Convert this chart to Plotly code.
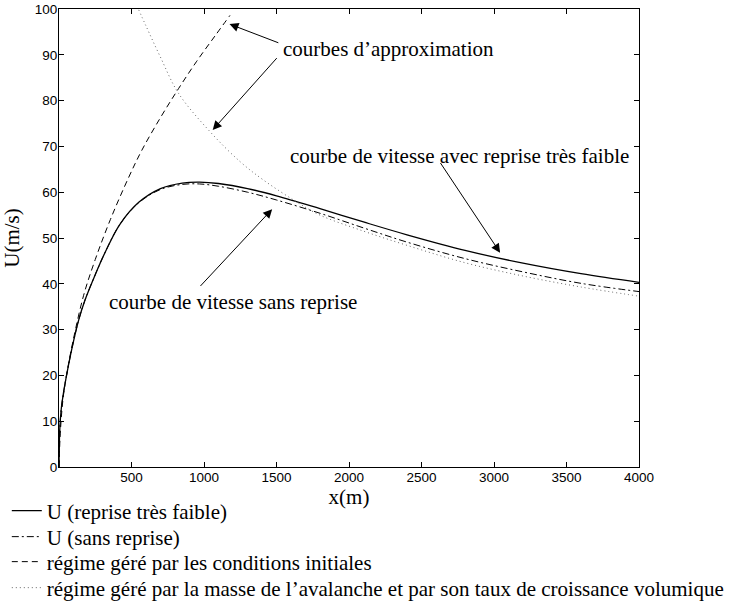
import plotly.graph_objects as go

# --- data ---
x_solid = [0, 5, 15, 30, 55, 90, 135, 180, 250, 320, 420, 550, 700, 850, 970, 1100, 1300, 1500, 1800, 2100, 2400, 2800, 3200, 3600, 4000]
u_solid = [0, 8, 12.5, 16, 20.5, 26, 32, 36.5, 42, 47, 53, 57.8, 60.8, 62, 62.2, 61.9, 60.8, 59.2, 56.4, 53.5, 50.7, 47.3, 44.5, 42.2, 40.3]

x_sans = [0, 5, 15, 30, 55, 90, 135, 180, 250, 320, 420, 550, 700, 850, 970, 1100, 1300, 1500, 1800, 2100, 2400, 2800, 3200, 3600, 4000]
u_sans = [0, 8, 12.5, 16, 20.5, 26, 32, 36.5, 42, 47, 53, 57.7, 60.6, 61.7, 61.8, 61.3, 60.0, 58.3, 55.4, 52.2, 49.1, 45.5, 42.6, 40.1, 38.3]

x_init = [0, 10, 30, 60, 100, 170, 250, 354, 480, 572, 700, 824, 950, 1080, 1179]
u_init = [0, 8, 15.5, 21.5, 28, 37.5, 45.3, 54.0, 63.2, 69.2, 76.3, 82.6, 88.6, 94.3, 98.6]

x_masse = [550, 600, 698, 824, 1042, 1248, 1408, 1638, 1800, 2100, 2400, 2800, 3200, 3600, 4000]
u_masse = [99.8, 96.3, 89.6, 81.6, 73.2, 66.7, 62.7, 57.9, 55.0, 51.5, 48.4, 44.6, 41.7, 39.3, 37.3]

legend_labels = [
    "U (reprise très faible)",
    "U (sans reprise)",
    "régime géré par les conditions initiales",
    "régime géré par la masse de l’avalanche et par son taux de croissance volumique",
]

x_ticks = [500, 1000, 1500, 2000, 2500, 3000, 3500, 4000]
y_ticks = [0, 10, 20, 30, 40, 50, 60, 70, 80, 90, 100]

SERIF = "Liberation Serif, Times New Roman, serif"
SANS = "Liberation Sans, Arial, sans-serif"

fig = go.Figure()
fig.add_trace(go.Scatter(x=x_solid, y=u_solid, mode="lines", name=legend_labels[0], legend="legend",
                         line=dict(color="black", width=1.3, shape="spline")))
fig.add_trace(go.Scatter(x=x_sans, y=u_sans, mode="lines", name=legend_labels[1], legend="legend2",
                         line=dict(color="black", width=1, dash="7px,3px,2px,3px", shape="spline")))
fig.add_trace(go.Scatter(x=x_init, y=u_init, mode="lines", name=legend_labels[2], legend="legend3",
                         line=dict(color="black", width=1, dash="6px,4px", shape="spline")))
fig.add_trace(go.Scatter(x=x_masse, y=u_masse, mode="lines", name=legend_labels[3], legend="legend4",
                         line=dict(color="#666666", width=1, dash="1px,3px", shape="spline")))

# arrows (tail -> head) in data coordinates
arrows = [
    ((1523, 92.5), (1176, 96.7)),
    ((1511, 89.6), (1060, 73.6)),
    ((2624, 66.7), (3042, 46.8)),
    ((966, 39.2), (1470, 56.3)),
]
annotations = []
for (tx, ty), (hx, hy) in arrows:
    annotations.append(dict(x=hx, y=hy, ax=tx, ay=ty, xref="x", yref="y", axref="x", ayref="y",
                            text="", showarrow=True, arrowhead=2, arrowsize=1.8, arrowwidth=1,
                            arrowcolor="black", standoff=0, startstandoff=0))

texts = [
    (1531, 91.3, "courbes d’approximation", "left"),
    (3945, 67.8, "courbe de vitesse avec reprise très faible", "right"),
    (333, 36.1, "courbe de vitesse sans reprise", "left"),
]
for tx, ty, t, anc in texts:
    annotations.append(dict(x=tx, y=ty, xref="x", yref="y", text=t, showarrow=False,
                            xanchor=anc, yanchor="middle",
                            font=dict(family=SERIF, size=21, color="black")))

def leg(ypos):
    return dict(x=-0.09, y=ypos, xanchor="left", yanchor="middle",
                font=dict(family=SERIF, size=21, color="black"),
                bgcolor="rgba(0,0,0,0)", borderwidth=0, itemwidth=30)

fig.update_layout(
    width=739, height=613,
    margin=dict(l=59, r=100, t=9, b=146, autoexpand=False),
    paper_bgcolor="white", plot_bgcolor="white",
    annotations=annotations,
    showlegend=True,
    legend=leg(-0.0961), legend2=leg(-0.1528), legend3=leg(-0.2074), legend4=leg(-0.2642),
    xaxis=dict(range=[0, 4000], tickvals=x_ticks, ticks="inside", ticklen=5, tickcolor="black",
               showline=True, linecolor="black", linewidth=1, mirror="ticks", showgrid=False, zeroline=False,
               automargin=False, ticklabelstandoff=-2, ticklabeloverflow="allow",
               tickfont=dict(family=SANS, size=13.5, color="black"),
               title=dict(text="x(m)", font=dict(family=SERIF, size=21, color="black"), standoff=0)),
    yaxis=dict(range=[0, 100], tickvals=y_ticks, ticks="inside", ticklen=5, tickcolor="black",
               showline=True, linecolor="black", linewidth=1, mirror="ticks", showgrid=False, zeroline=False,
               automargin=False, ticklabelstandoff=-2, ticklabeloverflow="allow",
               tickfont=dict(family=SANS, size=13.5, color="black"),
               title=dict(text="U(m/s)", font=dict(family=SERIF, size=21, color="black"), standoff=10)),
)

fig.write_html("out.html", config={"displayModeBar": False},
               post_script="document.body.style.margin='0';")
